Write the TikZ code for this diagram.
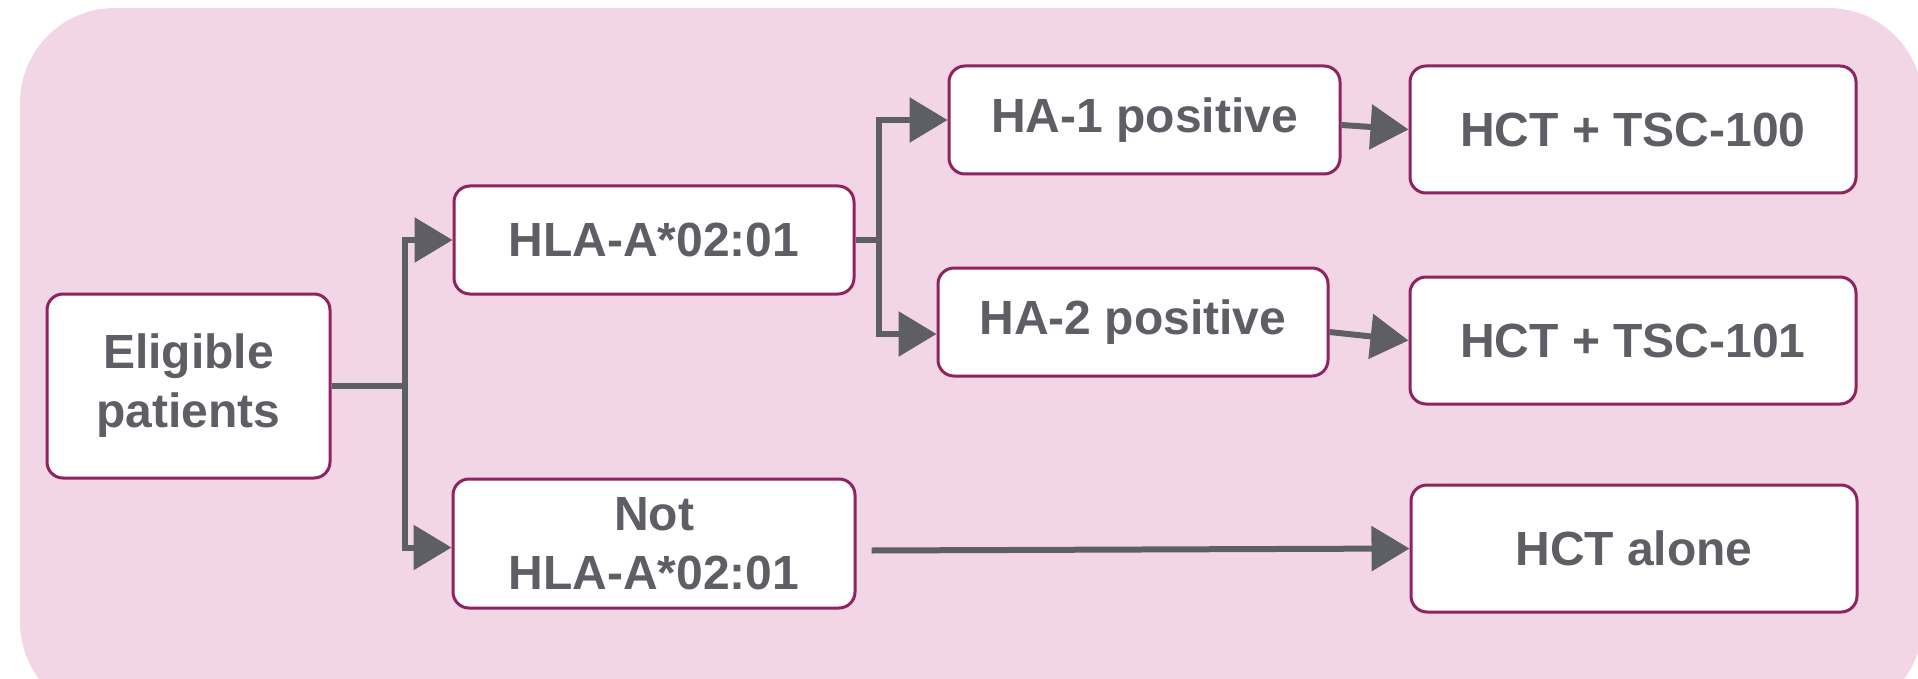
\documentclass[tikz,border=0pt]{standalone}
\usepackage{fontspec}
\setmainfont{Liberation Sans}
\usetikzlibrary{arrows.meta,calc}
\definecolor{bgpink}{RGB}{242,214,230}
\definecolor{boxline}{RGB}{142,35,96}
\definecolor{arrgray}{RGB}{94,95,101}
\begin{document}
\begin{tikzpicture}[x=1pt,y=-1pt,
  box/.style={draw=boxline, line width=3pt, fill=white, rounded corners=16pt,
    inner sep=0pt, align=center, text=arrgray,
    font=\bfseries\fontsize{48}{59}\selectfont},
  conn/.style={draw=arrgray, line width=6pt},
  arr/.style={conn, -{Triangle[length=38pt,width=44pt]}}]
\useasboundingbox (0,0) rectangle (1918,679);
\fill[bgpink, rounded corners=95pt] (20,8) rectangle (1923,717);

\node[box, minimum width=283pt, minimum height=184pt] (elig) at (188.5,386) {Eligible\\patients};
\node[box, minimum width=400pt, minimum height=108pt] (hla) at (654,240) {HLA-A*02:01};
\node[box, minimum width=402pt, minimum height=129pt] (not) at (654,543.5) {Not\\HLA-A*02:01};
\node[box, minimum width=391pt, minimum height=108pt] (ha1) at (1144.5,120) {HA-1 positive};
\node[box, minimum width=390pt, minimum height=108pt] (ha2) at (1133,322) {HA-2 positive};
\node[box, minimum width=446pt, minimum height=127pt] (t100) at (1633,129.5) {HCT + TSC-100};
\node[box, minimum width=446pt, minimum height=127pt] (t101) at (1633,340.5) {HCT + TSC-101};
\node[box, minimum width=446pt, minimum height=127pt] (alone) at (1634,548.5) {HCT alone};

\coordinate (j1) at (405,386);
\coordinate (j2) at (879,240);
\draw[conn] (elig.east) -- (j1);
\draw[arr] (j1) |- (hla.west);
\draw[arr] (j1) |- ($(not.west)+(0,4)$);
\draw[conn] (hla.east) -- (j2);
\draw[arr] (j2) |- (ha1.west);
\draw[arr] (j2) |- ($(ha2.west)+(0,12)$);
\draw[arr] ($(ha1.east)+(0,5)$) -- (t100.west);
\draw[arr] ($(ha2.east)+(0,10)$) -- (t101.west);
\draw[arr] ($(not.east)+(15,7)$) -- (alone.west);
\end{tikzpicture}
\end{document}
